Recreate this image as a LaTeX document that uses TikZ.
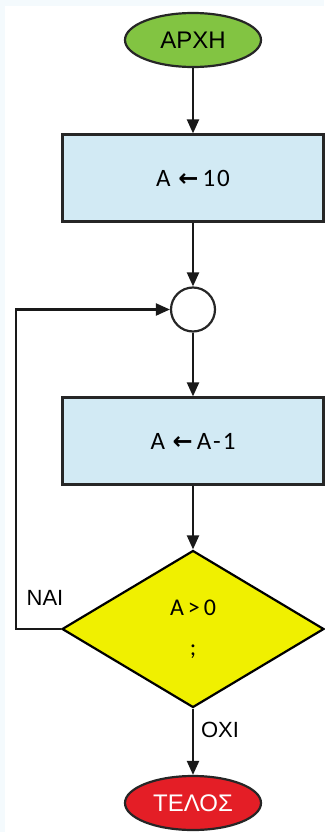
\documentclass[tikz,border=0pt]{standalone}
\usepackage{fontspec}
\setmainfont{Carlito}
\newfontfamily\arialf{Liberation Sans}
\newfontfamily\dejavu{DejaVu Sans}
\newfontfamily\carlsp{Carlito}[LetterSpace=8]
\usetikzlibrary{shapes.geometric,arrows.meta}
\definecolor{startgreen}{RGB}{130,196,66}
\definecolor{boxblue}{RGB}{210,234,244}
\definecolor{decyellow}{RGB}{240,240,0}
\definecolor{endred}{RGB}{228,30,38}
\definecolor{edgeblue}{RGB}{244,250,253}
\newcommand{\asgarrow}{{\dejavu\bfseries\fontsize{24}{28}\selectfont←}}
\begin{document}
\begin{tikzpicture}[x=1pt,y=-1pt,line width=2.2pt,
  >={Triangle[length=14pt,width=12pt]},
  term/.style={ellipse,draw=black!85,minimum width=136pt,minimum height=54pt,inner sep=0pt,font=\arialf\fontsize{24}{28}\selectfont},
  proc/.style={rectangle,draw=black!85,fill=boxblue,minimum width=261pt,minimum height=87pt,inner sep=0pt,font=\carlsp\fontsize{25}{30}\selectfont},
  dec/.style={diamond,draw=black,fill=decyellow,minimum width=262pt,minimum height=157pt,inner sep=0pt,align=center,font=\carlsp\fontsize{24}{28}\selectfont},
  junc/.style={circle,draw=black!85,fill=white,minimum size=44pt,inner sep=0pt},
  lbl/.style={font=\arialf\fontsize{22}{26}\selectfont,inner sep=0pt},
  flow/.style={->,draw=black!90}]
\useasboundingbox (0,0) rectangle (324,832);
\fill[edgeblue] (0,0) rectangle (324,6);
\fill[edgeblue] (0,0) rectangle (5,832);
\node[term,fill=startgreen] (start) at (193,40) {ΑΡΧΗ};
\node[proc] (b1) at (193,178) {Α \asgarrow\,10};
\node[junc] (j) at (193,309.5) {};
\node[proc] (b2) at (193,441) {Α \asgarrow\,Α-1};
\node[dec] (d) at (193,629) {Α\,>\,0\\[12pt];};
\node[term,fill=endred,text=white] (end) at (193,803) {ΤΕΛΟΣ};
\node[lbl] (yes) at (45,598) {ΝΑΙ};
\node[lbl] (no) at (220,730) {ΟΧΙ};
\draw[flow] (start) -- (b1);
\draw[flow] (b1) -- (j);
\draw[flow] (j) -- (b2);
\draw[flow] (b2) -- (d);
\draw[flow] (d) -- (end);
\draw[flow] (d.west) -- ++(-45,0) |- (j.west);
\end{tikzpicture}
\end{document}
